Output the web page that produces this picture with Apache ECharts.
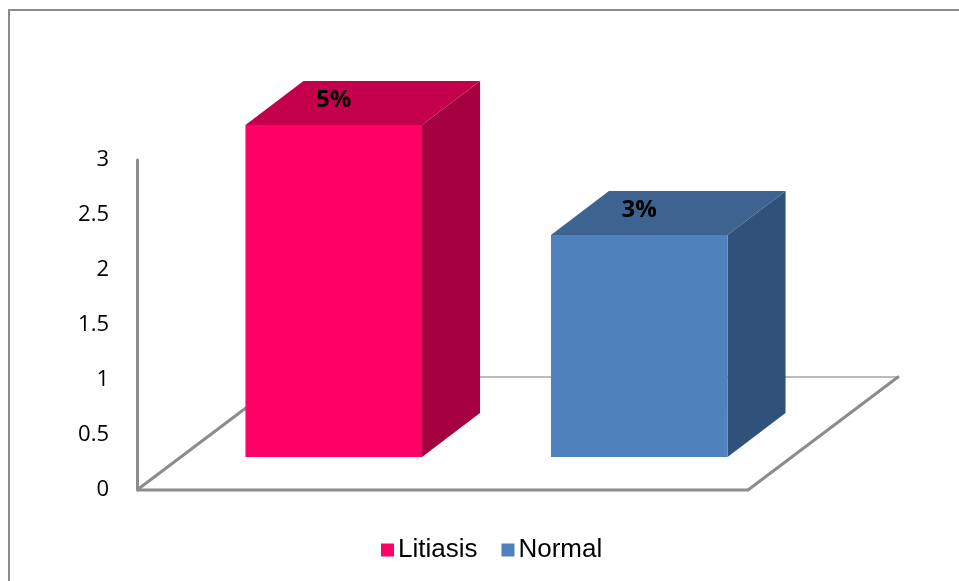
<!DOCTYPE html>
<html>
<head>
<meta charset="utf-8">
<script src="https://cdn.jsdelivr.net/npm/echarts@6/dist/echarts.min.js"></script>
<style>
  html, body { margin: 0; padding: 0; background: #ffffff; }
  #chart { width: 959px; height: 581px; }
</style>
</head>
<body>
<div id="chart"></div>
<script>
// Data
const categories = ['Litiasis', 'Normal'];
const values = [3, 2];
const pctLabels = ['5%', '3%'];
const yMin = 0, yMax = 3, yStep = 0.5;

// Face colours: front, top, side
const palette = [
  { front: '#FF0066', top: '#C4004C', side: '#A5003F' },
  { front: '#4F81BD', top: '#3D6390', side: '#30527A' }
];

// Oblique projection offsets (pixels)
const FLOOR_DEPTH = [150, -113];  // front edge of floor -> back edge of floor
const BAR_FRONT = [44, -33];      // floor front plane -> bar front plane
const BAR_DEPTH = [58, -44];      // bar front face -> bar back face
const BAR_WIDTH_RATIO = 0.578;

const chart = echarts.init(document.getElementById('chart'), null, { renderer: 'canvas' });

function renderFloor(params, api) {
  const cs = params.coordSys;
  const x0 = cs.x, x1 = cs.x + cs.width, y0 = cs.y + cs.height;
  const bx0 = x0 + FLOOR_DEPTH[0], bx1 = x1 + FLOOR_DEPTH[0], by = y0 + FLOOR_DEPTH[1];
  return {
    type: 'group',
    children: [
      { type: 'line', shape: { x1: bx0, y1: by, x2: bx1, y2: by },
        style: { stroke: '#a6a6a6', lineWidth: 1.5 } },
      { type: 'line', shape: { x1: x0, y1: y0, x2: bx0, y2: by },
        style: { stroke: '#8c8c8c', lineWidth: 3 } },
      { type: 'line', shape: { x1: x1, y1: y0, x2: bx1, y2: by },
        style: { stroke: '#8c8c8c', lineWidth: 3, lineCap: 'round' } },
      { type: 'line', shape: { x1: x0, y1: y0, x2: x1, y2: y0 },
        style: { stroke: '#8c8c8c', lineWidth: 3 } }
    ]
  };
}

function makeBarRenderer(idx) {
  const c = palette[idx];
  return function (params, api) {
    const cat = api.value(0), v = api.value(1);
    const base = api.coord([cat, 0]);
    const top = api.coord([cat, v]);
    const bw = api.size([1, 0])[0] * BAR_WIDTH_RATIO;
    const lx = base[0] + BAR_FRONT[0] - bw / 2;
    const rx = lx + bw;
    const by = base[1] + BAR_FRONT[1];
    const ty = top[1] + BAR_FRONT[1] - 2;
    const dx = BAR_DEPTH[0], dy = BAR_DEPTH[1];
    return {
      type: 'group',
      children: [
        { type: 'polygon',
          shape: { points: [[rx, ty], [rx + dx, ty + dy], [rx + dx, by + dy], [rx, by]] },
          style: { fill: c.side } },
        { type: 'polygon',
          shape: { points: [[lx, ty], [lx + dx, ty + dy], [rx + dx, ty + dy], [rx, ty]] },
          style: { fill: c.top } },
        { type: 'rect',
          shape: { x: lx, y: ty, width: bw, height: by - ty },
          style: { fill: c.front } },
        { type: 'text',
          style: {
            x: (lx + rx) / 2, y: ty - 25,
            text: pctLabels[cat],
            fill: '#000000',
            font: 'bold 24px "Open Sans", sans-serif',
            align: 'center', verticalAlign: 'middle'
          } }
      ]
    };
  };
}

const barSeries = categories.map((name, i) => ({
  name: name,
  type: 'custom',
  renderItem: makeBarRenderer(i),
  itemStyle: { color: palette[i].front },
  encode: { x: 0, y: 1 },
  data: [[i, values[i]]],
  z: 3
}));

chart.setOption({
  backgroundColor: '#ffffff',
  animation: false,
  graphic: [
    { type: 'rect', shape: { x: 9, y: 10, width: 980, height: 620 },
      style: { fill: 'none', stroke: '#8c8c8c', lineWidth: 2 }, silent: true }
  ],
  grid: { left: 137, right: 211, top: 160, bottom: 91 },
  xAxis: {
    type: 'category',
    data: categories,
    show: false
  },
  yAxis: {
    type: 'value',
    min: yMin, max: yMax, interval: yStep,
    axisLine: { show: true, lineStyle: { color: '#8c8c8c', width: 3 } },
    axisTick: { show: false },
    splitLine: { show: false },
    axisLabel: {
      margin: 28,
      color: '#000000',
      fontFamily: 'Open Sans',
      fontSize: 22
    }
  },
  legend: {
    left: 376,
    top: 532,
    icon: 'rect',
    itemWidth: 13,
    itemHeight: 13,
    itemGap: 24,
    textStyle: { fontFamily: 'Liberation Sans', fontSize: 26, color: '#000000', padding: [0, 0, 0, -1] },
    data: categories
  },
  series: [
    {
      name: 'floor',
      type: 'custom',
      renderItem: renderFloor,
      data: [[0, 0]],
      silent: true,
      z: 1
    }
  ].concat(barSeries)
});
</script>
</body>
</html>
